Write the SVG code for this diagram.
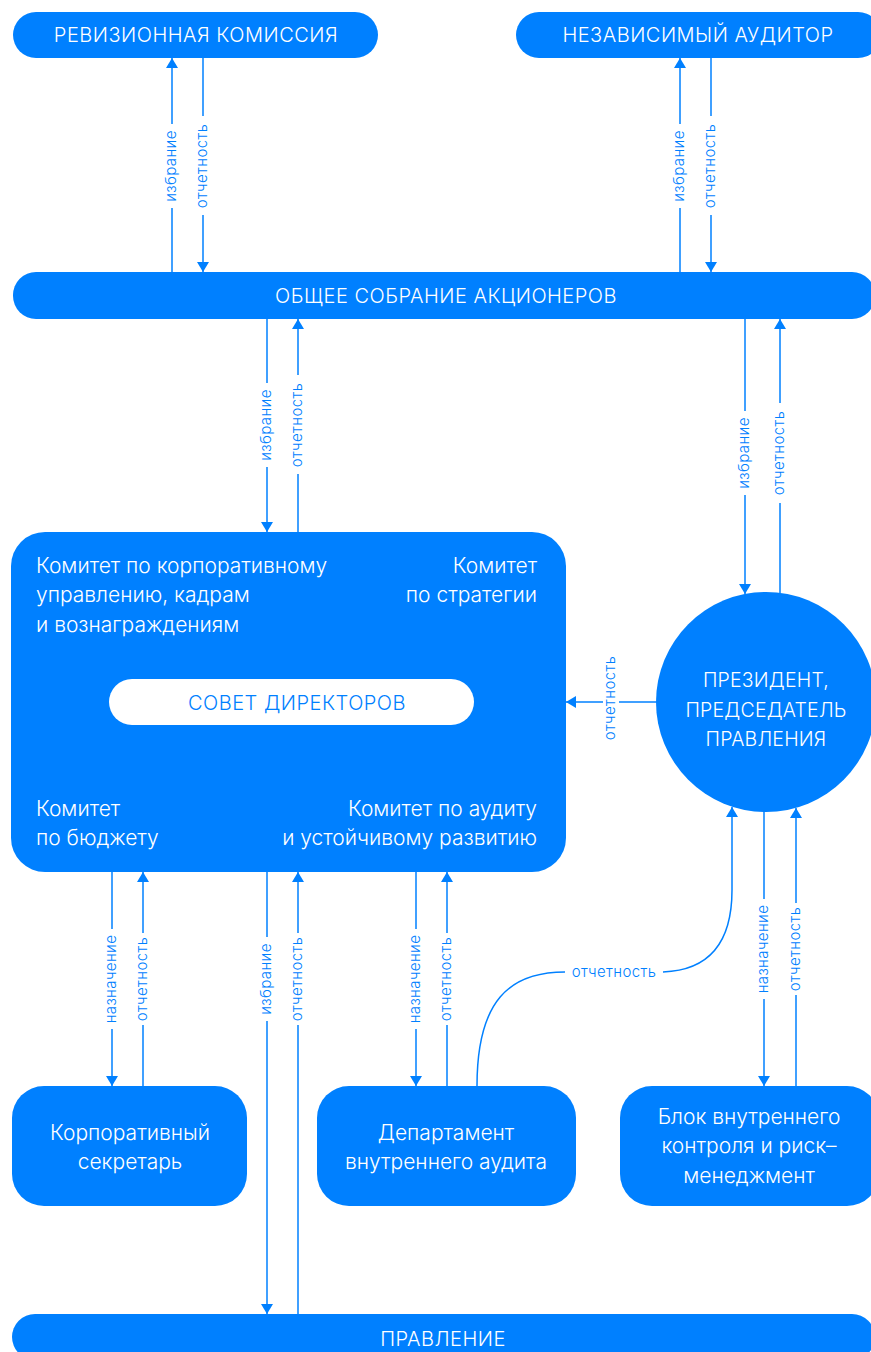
<svg xmlns="http://www.w3.org/2000/svg" width="871" height="1352" viewBox="0 0 871 1352">
<defs>
<marker id="ah" viewBox="0 0 10 12" refX="10" refY="6" markerWidth="10" markerHeight="12" markerUnits="userSpaceOnUse" orient="auto">
<path d="M0,0 L10,6 L0,12 z" fill="#0080ff"/>
</marker>
<style>
.n{fill:#0080ff}
.t{font-family:Inter,"Noto Sans",sans-serif;fill:#fff;font-size:21px;font-weight:300}
.u{font-size:20px;letter-spacing:0.5px}
.p{font-size:19.5px;letter-spacing:0.2px}
.c{text-anchor:middle}
.r{text-anchor:end}
.l{font-family:Inter,"Noto Sans",sans-serif;fill:#0080ff;font-size:15px;letter-spacing:0.4px;font-weight:300;text-anchor:middle}
.k{fill:none;stroke:#0080ff;stroke-width:1.5}
.a{marker-end:url(#ah)}
</style>
</defs>
<rect width="871" height="1352" fill="#fff"/>
<g id="connectors">
<path class="k" d="M172,272 V208"/><path class="k a" d="M172,124 V58"/>
<path class="k" d="M203,58 V116"/><path class="k a" d="M203,215 V272"/>
<path class="k" d="M680,272 V208"/><path class="k a" d="M680,124 V58"/>
<path class="k" d="M711,58 V116"/><path class="k a" d="M711,215 V272"/>
<path class="k" d="M267,319 V383"/><path class="k a" d="M267,467 V532"/>
<path class="k" d="M298,532 V474"/><path class="k a" d="M298,375 V319"/>
<path class="k" d="M745,319 V411"/><path class="k a" d="M745,495 V594"/>
<path class="k" d="M780,593 V503"/><path class="k a" d="M780,403 V319"/>
<path class="k" d="M656,702 H619"/><path class="k a" d="M603,702 H566"/>
<path class="k" d="M112,872 V929"/><path class="k a" d="M112,1029 V1086"/>
<path class="k" d="M143,1086 V1025"/><path class="k a" d="M143,933 V872"/>
<path class="k" d="M267,872 V937"/><path class="k a" d="M267,1021 V1314"/>
<path class="k" d="M298,1314 V1025"/><path class="k a" d="M298,933 V872"/>
<path class="k" d="M416,872 V929"/><path class="k a" d="M416,1029 V1086"/>
<path class="k" d="M447,1086 V1025"/><path class="k a" d="M447,933 V872"/>
<path class="k" d="M764,812 V899"/><path class="k a" d="M764,999 V1086"/>
<path class="k" d="M796,1086 V995"/><path class="k a" d="M796,903 V808"/>
<path class="k" d="M477,1086 C477,1000 510,972 565,972"/>
<path class="k a" d="M663,972 C715,970 732,935 732,890 V807"/>
<text class="l" transform="translate(176,166) rotate(-90)">избрание</text>
<text class="l" transform="translate(207,166) rotate(-90)">отчетность</text>
<text class="l" transform="translate(684,166) rotate(-90)">избрание</text>
<text class="l" transform="translate(715,166) rotate(-90)">отчетность</text>
<text class="l" transform="translate(271,425) rotate(-90)">избрание</text>
<text class="l" transform="translate(302,425) rotate(-90)">отчетность</text>
<text class="l" transform="translate(749,453) rotate(-90)">избрание</text>
<text class="l" transform="translate(784,453) rotate(-90)">отчетность</text>
<text class="l" transform="translate(615,698) rotate(-90)">отчетность</text>
<text class="l" transform="translate(116,979) rotate(-90)">назначение</text>
<text class="l" transform="translate(147,979) rotate(-90)">отчетность</text>
<text class="l" transform="translate(271,979) rotate(-90)">избрание</text>
<text class="l" transform="translate(302,979) rotate(-90)">отчетность</text>
<text class="l" transform="translate(420,979) rotate(-90)">назначение</text>
<text class="l" transform="translate(451,979) rotate(-90)">отчетность</text>
<text class="l" transform="translate(768,949) rotate(-90)">назначение</text>
<text class="l" transform="translate(800,949) rotate(-90)">отчетность</text>
<text class="l" x="614" y="977">отчетность</text>
</g>
<g id="revizionnaya">
<rect class="n" x="13" y="12" width="365" height="46" rx="23"/>
<text class="t u c" x="196" y="42">РЕВИЗИОННАЯ КОМИССИЯ</text>
</g>
<g id="auditor">
<rect class="n" x="516" y="12" width="365" height="46" rx="23"/>
<text class="t u c" x="698" y="42">НЕЗАВИСИМЫЙ АУДИТОР</text>
</g>
<g id="osa">
<rect class="n" x="13" y="272" width="862" height="47" rx="23"/>
<text class="t u c" x="446" y="303">ОБЩЕЕ СОБРАНИЕ АКЦИОНЕРОВ</text>
</g>
<g id="board">
<rect class="n" x="11" y="532" width="555" height="340" rx="34"/>
<text class="t" x="36" y="573">Комитет по корпоративному</text>
<text class="t" x="36" y="602">управлению, кадрам</text>
<text class="t" x="36" y="632">и вознаграждениям</text>
<text class="t r" x="537" y="573">Комитет</text>
<text class="t r" x="537" y="602">по стратегии</text>
<text class="t" x="36" y="816">Комитет</text>
<text class="t" x="36" y="845">по бюджету</text>
<text class="t r" x="537" y="816">Комитет по аудиту</text>
<text class="t r" x="537" y="845">и устойчивому развитию</text>
<rect x="109" y="679" width="365" height="46" rx="23" fill="#fff"/>
<text class="t u c" x="297" y="710" style="fill:#0080ff">СОВЕТ ДИРЕКТОРОВ</text>
</g>
<g id="president">
<circle class="n" cx="766" cy="702" r="110"/>
<text class="t p c" x="766" y="687">ПРЕЗИДЕНТ,</text>
<text class="t p c" x="766" y="717">ПРЕДСЕДАТЕЛЬ</text>
<text class="t p c" x="766" y="746">ПРАВЛЕНИЯ</text>
</g>
<g id="secretary">
<rect class="n" x="12" y="1086" width="235" height="120" rx="32"/>
<text class="t c" x="130" y="1140">Корпоративный</text>
<text class="t c" x="130" y="1169">секретарь</text>
</g>
<g id="department">
<rect class="n" x="317" y="1086" width="259" height="120" rx="32"/>
<text class="t c" x="446" y="1140">Департамент</text>
<text class="t c" x="446" y="1169">внутреннего аудита</text>
</g>
<g id="block">
<rect class="n" x="620" y="1086" width="259" height="120" rx="32"/>
<text class="t c" x="749" y="1124">Блок внутреннего</text>
<text class="t c" x="749" y="1153">контроля и риск–</text>
<text class="t c" x="749" y="1183">менеджмент</text>
</g>
<g id="pravlenie">
<rect class="n" x="12" y="1314" width="863" height="46" rx="23"/>
<text class="t u c" x="443" y="1346">ПРАВЛЕНИЕ</text>
</g>
</svg>
